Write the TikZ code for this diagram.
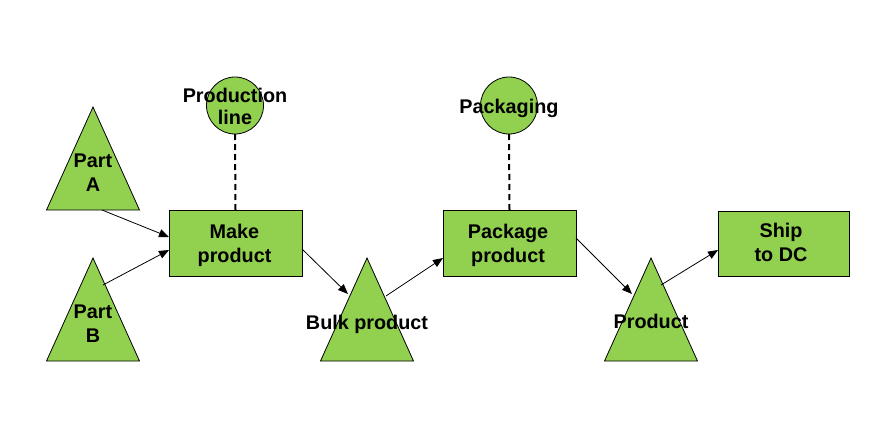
\documentclass[tikz,border=0pt]{standalone}
\usepackage{fontspec}
\setmainfont{Liberation Sans}
\usetikzlibrary{shapes.geometric,arrows.meta}
\definecolor{fillgreen}{RGB}{146,208,80}
\begin{document}
\begin{tikzpicture}[x=1pt,y=-1pt,
  shapebase/.style={draw=black,fill=fillgreen,line width=0.8pt,inner sep=0pt,outer sep=0pt},
  procbox/.style={shapebase,rectangle,minimum width=133pt,minimum height=66pt},
  resource/.style={shapebase,circle,minimum size=57pt},
  stock/.style={shapebase,isosceles triangle,isosceles triangle stretches,shape border rotate=90,minimum width=93pt,minimum height=103pt,anchor=apex},
  lbl/.style={font=\fontsize{19.8}{24}\selectfont\bfseries,align=center,anchor=base,inner sep=0pt},
  flow/.style={line width=0.8pt,-{Triangle[length=10pt,width=8pt]}},
  link/.style={line width=2pt,dash pattern=on 6pt off 4pt},
]
\useasboundingbox (0,0) rectangle (873,431);
% resources
\node[resource] (prodline) at (235,105.5) {};
\node[resource] (packaging) at (509,105.5) {};
% processes
\node[procbox] (make) at (235.5,243) {};
\node[procbox] (package) at (509.5,243) {};
\node[procbox,minimum width=131pt,minimum height=65pt] (ship) at (783.5,243.5) {};
% stocks
\node[stock] (partA) at (93,107) {};
\node[stock] (partB) at (93,258) {};
\node[stock] (bulk) at (367,258) {};
\node[stock] (product) at (651,258) {};
% dashed resource links
\draw[link] (prodline.south) -- (make.north);
\draw[link] (packaging.south) -- (package.north);
% flows
\draw[flow] ([xshift=9pt]partA.south) -- ([yshift=6pt]make.west);
\draw[flow] ([xshift=10pt,yshift=-27pt]partB.apex) -- ([yshift=-7pt]make.west);
\draw[flow] ([yshift=-6pt]make.east) -- ([xshift=-19pt,yshift=-36pt]bulk.apex);
\draw[flow] ([xshift=19pt,yshift=-38pt]bulk.apex) -- ([yshift=-15pt]package.west);
\draw[flow] ([yshift=5pt]package.east) -- ([xshift=-19pt,yshift=-36pt]product.apex);
\draw[flow] ([xshift=10pt,yshift=-27pt]product.apex) -- ([yshift=-6.5pt]ship.west);
% labels
\node[lbl,font=\fontsize{19.8}{22}\selectfont\bfseries] (prodlinetxt) at (235,124) {Production\\line};
\node[lbl] (packagingtxt) at (509,113) {Packaging};
\node[lbl] (maketxt) at (234.5,262) {Make\\product};
\node[lbl] (packagetxt) at (508,262) {Package\\product};
\node[lbl] (shiptxt) at (781,261) {Ship\\to DC};
\node[lbl] (partAtxt) at (93,191) {Part\\A};
\node[lbl] (partBtxt) at (93,342) {Part\\B};
\node[lbl] (bulktxt) at (367,329) {Bulk product};
\node[lbl] (producttxt) at (651,328) {Product};
\end{tikzpicture}
\end{document}
